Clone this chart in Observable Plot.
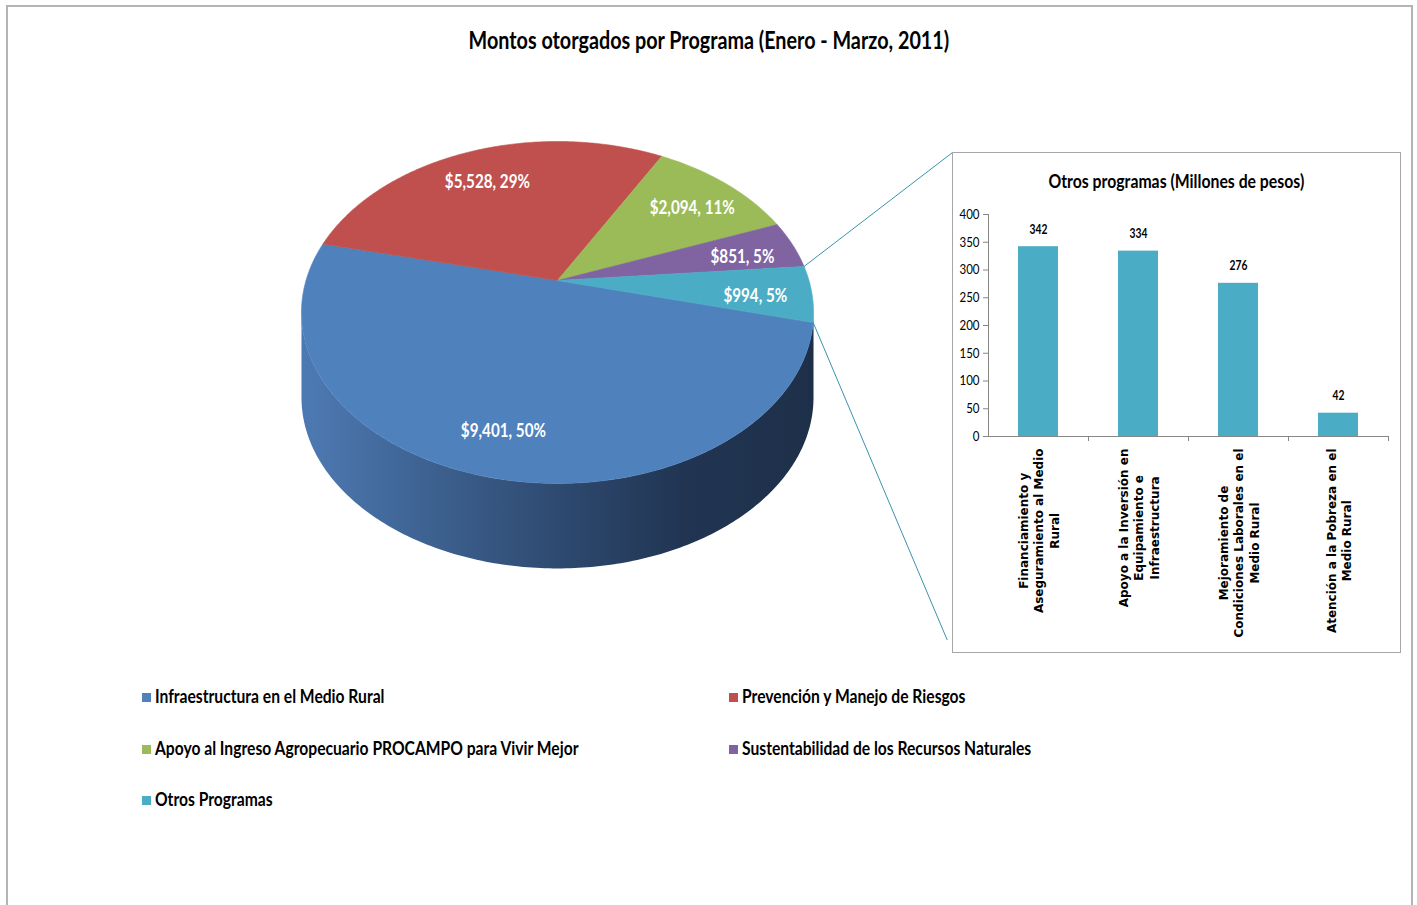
<!DOCTYPE html>
<html>
<head>
<meta charset="utf-8">
<script src="https://cdn.jsdelivr.net/npm/d3@7"></script>
<script src="https://cdn.jsdelivr.net/npm/@observablehq/plot@0.6"></script>
<style>
  html, body { margin: 0; padding: 0; background: #fff; }
  body { width: 1417px; height: 905px; overflow: hidden; position: relative; font-family: Lato, sans-serif; }
  #frame { position: absolute; left: 6px; top: 5px; width: 1407px; height: 960px;
           border: 2px solid #b4b4b4; box-sizing: border-box; pointer-events: none; }
  #title { position: absolute; left: 0; top: 24px; width: 1417px; text-align: center;
           font-weight: bold; font-size: 24px; color: #000; line-height: 32px; }
  #pie { position: absolute; left: 0; top: 0; }
  #bars { position: absolute; left: 952px; top: 152px; width: 449px; height: 501px;
          border: 1px solid #a6a6a6; box-sizing: border-box; background: #fff; }
  #barsTitle { position: absolute; left: 0; top: 15px; width: 100%; text-align: center;
               font-weight: bold; font-size: 19.2px; line-height: 26px; }
  #barsPlot { position: absolute; left: 0; top: 0; }
  .sq { display: inline-block; white-space: nowrap; }
  .item { position: absolute; font-weight: bold; font-size: 19px; line-height: 24px; white-space: nowrap; color: #000; }
  .sw { display: inline-block; width: 9px; height: 9px; margin-right: 4px; vertical-align: 1px; }
</style>
</head>
<body>
<div id="title"></div>
<div id="pie"></div>
<div id="bars"><div id="barsPlot"></div><div id="barsTitle"></div></div>
<div id="legend"></div>
<div id="frame"></div>
<script>
// ---------------- data ----------------
const titulo = "Montos otorgados por Programa (Enero - Marzo, 2011)";
const programas = [
  "Infraestructura en el Medio Rural",
  "Prevención y Manejo de Riesgos",
  "Apoyo al Ingreso Agropecuario PROCAMPO para Vivir Mejor",
  "Sustentabilidad de los Recursos Naturales",
  "Otros Programas"
];
const montos = [9401, 5528, 2094, 851, 994];
const colores = ["#4F81BD", "#C0504D", "#9BBB59", "#8064A2", "#4BACC6"];

const tituloOtros = "Otros programas (Millones de pesos)";
const otrosProgramas = [
  "Financiamiento y Aseguramiento al Medio Rural",
  "Apoyo a la Inversión en Equipamiento e Infraestructura",
  "Mejoramiento de Condiciones Laborales en el Medio Rural",
  "Atención a la Pobreza en el Medio Rural"
];
const otrosEtiquetas = [
  "Financiamiento y\nAseguramiento al Medio\nRural",
  "Apoyo a la Inversión en\nEquipamiento e\nInfraestructura",
  "Mejoramiento de\nCondiciones Laborales en el\nMedio Rural",
  "Atención a la Pobreza en el\nMedio Rural"
];
const otrosMontos = [342, 334, 276, 42];
const yTicks = [0, 50, 100, 150, 200, 250, 300, 350, 400];

// ---------------- layout / geometry ----------------
const FONT = "Lato, sans-serif";
const CX = 557, CY = 280, RX = 251.5, RY = 165;   // pie top-face placement
const K = 0.187;                                  // perspective
const DEPTH = 85 / RY;                            // thickness in y units
const START = 104 * Math.PI / 180;                // first slice start angle
const BOX = {left: 952, top: 152, bottom: 652};   // inset box
const TITLE_W = 481;                              // rendered title width (narrow face)

// horizontal squeeze factor so that Lato reads like the narrow face of the original
const ctx = document.createElement("canvas").getContext("2d");
ctx.font = "bold 24px Lato";
const F = TITLE_W / ctx.measureText(titulo).width;

function squeezeHTML(el, text, origin) {
  const s = document.createElement("span");
  s.className = "sq";
  s.style.transform = `scaleX(${F})`;
  s.style.transformOrigin = origin;
  s.textContent = text;
  el.appendChild(s);
}
squeezeHTML(document.getElementById("title"), titulo, "center");
squeezeHTML(document.getElementById("barsTitle"), tituloOtros, "center");

function squeezeSVG(svg) {
  svg.querySelectorAll("g[font-family^='Lato'] text").forEach(t => {
    const x = +t.getAttribute("x") || 0, y = +t.getAttribute("y") || 0;
    const tr = t.getAttribute("transform") || "";
    t.setAttribute("transform", `${tr} translate(${x},${y}) scale(${F},1) translate(${-x},${-y})`);
  });
}

const xS = d3.scaleLinear([-1, 1], [CX - RX, CX + RX]);
const yS = d3.scaleLinear([-1, 1], [CY - RY, CY + RY]);
const proj = (a, r = 1) => {
  const X = r * Math.sin(a), Z = -r * Math.cos(a), s = 1 / (1 - K * Z);
  return [X * s, Z * s];
};

const total = d3.sum(montos);
const arcs = d3.pie().sort(null).startAngle(START).endAngle(START + 2 * Math.PI)(montos);

const slicePts = [];
arcs.forEach((a, i) => {
  slicePts.push({p: programas[i], x: 0, y: 0});
  const n = Math.max(2, Math.ceil((a.endAngle - a.startAngle) / 0.01));
  for (let j = 0; j <= n; j++) {
    const t = a.startAngle + (a.endAngle - a.startAngle) * j / n;
    const [x, y] = proj(t);
    slicePts.push({p: programas[i], x, y});
  }
});

// side wall (front, between the two silhouette points)
const phi1 = Math.acos(-K), phi2 = 2 * Math.PI - phi1;
const wallPts = [];
const nW = 200;
for (let j = 0; j <= nW; j++) {
  const [x, y] = proj(phi1 + (phi2 - phi1) * j / nW);
  wallPts.push({x, y});
}
for (let j = nW; j >= 0; j--) {
  const [x, y] = proj(phi1 + (phi2 - phi1) * j / nW);
  wallPts.push({x, y: y + DEPTH});
}

const fmt = d3.format(","), pf = d3.format(".0%");
const labels = arcs.map((a, i) => {
  const m = (a.startAngle + a.endAngle) / 2;
  const [x, y] = proj(m, 0.78);
  return {x, y, text: `$${fmt(montos[i])}, ${pf(montos[i] / total)}`};
});

const pA = proj(arcs[3].endAngle), pB = proj(arcs[4].endAngle);
const connectors = [
  {x1: pA[0], y1: pA[1], x2: xS.invert(BOX.left), y2: yS.invert(BOX.top)},
  {x1: pB[0], y1: pB[1], x2: xS.invert(BOX.left), y2: yS.invert(BOX.bottom)}
];

const gradientDefs = () => {
  const svg = d3.create("svg:defs");
  const g = svg.append("linearGradient").attr("id", "gradLateral")
    .attr("gradientUnits", "userSpaceOnUse")
    .attr("x1", CX - RX).attr("x2", CX + RX).attr("y1", 0).attr("y2", 0);
  [[0, "#4d79b2"], [0.25, "#3d6190"], [0.5, "#2e4a70"], [0.75, "#213553"], [1, "#1e3049"]]
    .forEach(([o, c]) => g.append("stop").attr("offset", o).attr("stop-color", c));
  return svg.node();
};

const pie = Plot.plot({
  width: 960, height: 640,
  style: {background: "transparent"},
  x: {type: "linear", domain: xS.domain(), range: xS.range(), axis: null},
  y: {type: "linear", domain: yS.domain(), range: yS.range(), axis: null},
  color: {domain: programas, range: colores},
  marks: [
    gradientDefs,
    Plot.line(wallPts, {x: "x", y: "y", fill: "url(#gradLateral)", stroke: "none", curve: "linear-closed"}),
    Plot.line(slicePts, {x: "x", y: "y", z: "p", fill: "p", stroke: "p", strokeWidth: 0.6, curve: "linear-closed"}),
    Plot.text(labels, {x: "x", y: "y", text: "text", fill: "white", fontSize: 18.5, fontWeight: "bold",
                       fontFamily: FONT, dy: 5}),
    Plot.link(connectors, {x1: "x1", y1: "y1", x2: "x2", y2: "y2", stroke: "#3b93ad", strokeWidth: 1})
  ]
});
squeezeSVG(pie);
document.getElementById("pie").appendChild(pie);

// ---------------- inset bar chart ----------------
const barData = otrosProgramas.map((p, i) => ({p, v: otrosMontos[i]}));
const BW = 447, BH = 499, ML = 35, MR = 12, MT = 61, MB = 216;
const step = (BW - ML - MR) / otrosProgramas.length;
const XFS = 12;
ctx.font = `bold ${XFS}px 'DejaVu Sans'`;

const bars = Plot.plot({
  width: BW, height: BH,
  marginLeft: ML, marginRight: MR, marginTop: MT, marginBottom: MB,
  style: {background: "transparent"},
  x: {domain: otrosProgramas, paddingInner: 0.6, paddingOuter: 0.3, axis: null},
  y: {domain: [0, 400], axis: null},
  marks: [
    Plot.barY(barData, {x: "p", y: "v", fill: "#4BACC6"}),
    Plot.ruleY([0], {stroke: "#868686"}),
    Plot.frame({anchor: "left", stroke: "#868686"}),
    Plot.axisY(yTicks, {tickSize: 5, tickPadding: 4, fontSize: 14, fontFamily: FONT, stroke: "#868686", label: null}),
    Plot.ruleX(otrosProgramas, {x: d => d, dx: step / 2, y1: () => 0, y2: () => 0, insetBottom: -5, stroke: "#868686"}),
    Plot.text(barData, {x: "p", y: "v", text: d => String(d.v), dy: -17, fontSize: 12.5, fontWeight: "bold", fontFamily: FONT}),
    ...otrosProgramas.map((p, i) => {
      const w = d3.max(otrosEtiquetas[i].split("\n"), l => ctx.measureText(l).width);
      return Plot.text([p], {x: d => d, y: () => 0, text: () => otrosEtiquetas[i], rotate: -90,
        textAnchor: "middle", lineAnchor: "middle", lineHeight: 1.28, dy: 12 + w / 2,
        fontSize: XFS, fontWeight: "bold", fontFamily: "DejaVu Sans"});
    })
  ]
});
squeezeSVG(bars);
document.getElementById("barsPlot").appendChild(bars);

// ---------------- legend ----------------
const legend = document.getElementById("legend");
programas.forEach((p, i) => {
  const col = i % 2, row = Math.floor(i / 2);
  const item = document.createElement("div");
  item.className = "item";
  item.style.left = (142 + col * 587) + "px";
  item.style.top = (684 + row * 51.5) + "px";
  const sw = document.createElement("span");
  sw.className = "sw";
  sw.style.background = colores[i];
  item.appendChild(sw);
  squeezeHTML(item, p, "left");
  legend.appendChild(item);
});
</script>
</body>
</html>
